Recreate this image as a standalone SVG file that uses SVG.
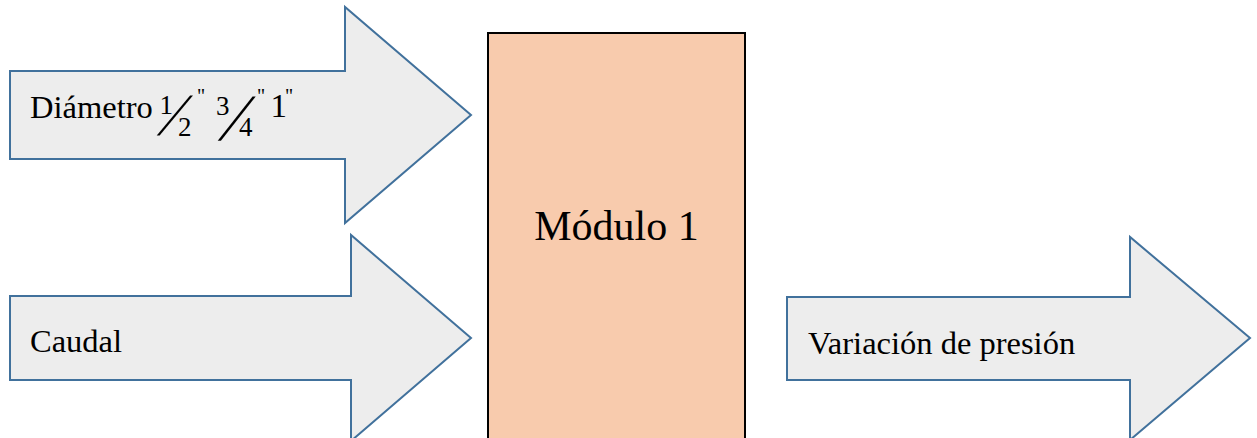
<svg xmlns="http://www.w3.org/2000/svg" width="1257" height="438" viewBox="0 0 1257 438">
<style>
.arrow{fill:#EDEDED;stroke:#41719C;stroke-width:2;stroke-linejoin:miter}
.box{fill:#F8CBAD;stroke:#000;stroke-width:2}
.t{font-family:"Liberation Serif","Times New Roman",serif;fill:#000}
.lbl{font-size:32.5px}
.num{font-size:27px}
.q{font-size:20px}
</style>
<rect width="1257" height="438" fill="#fff"/>
<g id="connectors"></g>
<g id="diametro">
<polygon class="arrow" points="10,71 345,71 345,7 471,115 345,223 345,159 10,159"/>
<text class="t lbl" x="30" y="118">Diámetro</text>
<text class="t num" x="159.5" y="114">1</text>
<text class="t" font-size="60" transform="translate(157,135) skewX(-26)" x="0" y="0">/</text>
<text class="t num" x="178" y="136">2</text>
<text class="t q" x="197" y="103">"</text>
<text class="t num" x="216" y="115">3</text>
<text class="t" font-size="66" transform="translate(218,140) skewX(-24)" x="0" y="0">/</text>
<text class="t num" x="239" y="136">4</text>
<text class="t q" x="257" y="103">"</text>
<text class="t" font-size="33" x="270.5" y="117">1</text>
<text class="t q" x="285" y="103">"</text>
</g>
<g id="caudal">
<polygon class="arrow" points="10,296 351,296 351,235 471,338 351,441 351,380 10,380"/>
<text class="t lbl" x="30" y="352">Caudal</text>
</g>
<g id="modulo1">
<rect class="box" x="488" y="33" width="257" height="420"/>
<text class="t" font-size="42" x="616.5" y="240" text-anchor="middle">Módulo 1</text>
</g>
<g id="variacion">
<polygon class="arrow" points="787,297 1130,297 1130,237 1250,338 1130,440 1130,380 787,380"/>
<text class="t lbl" x="808" y="354">Variación de presión</text>
</g>
</svg>
